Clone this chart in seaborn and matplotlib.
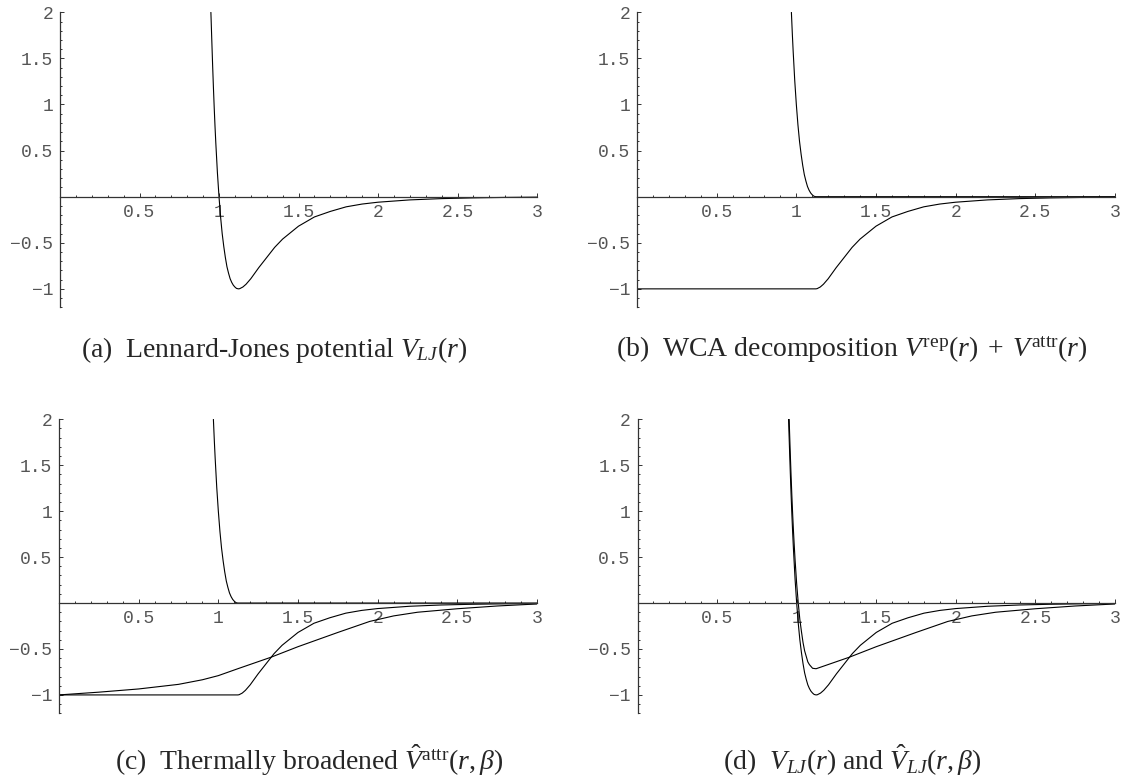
import matplotlib
matplotlib.use("Agg")
import matplotlib.pyplot as plt
import seaborn as sns
from matplotlib.ticker import MultipleLocator

# Lennard-Jones potential V_LJ(r)
r_lj = [0.949, 0.955, 0.96, 0.965, 0.97, 0.975, 0.98, 0.985, 0.99, 0.995, 1.0,
        1.01, 1.02, 1.03, 1.04, 1.05, 1.06, 1.07, 1.08, 1.09, 1.1, 1.11, 1.122,
        1.13, 1.15, 1.17, 1.2, 1.25, 1.3, 1.35, 1.4, 1.5, 1.6, 1.7, 1.8, 1.9,
        2.0, 2.2, 2.4, 2.6, 2.8, 3.0]
v_lj = [2.0, 1.68, 1.42, 1.18, 0.96, 0.76, 0.58, 0.42, 0.26, 0.13, 0.0,
        -0.22, -0.40, -0.54, -0.66, -0.76, -0.83, -0.89, -0.93, -0.96, -0.98, -0.995, -1.0,
        -0.998, -0.98, -0.95, -0.89, -0.77, -0.66, -0.55, -0.46, -0.32, -0.22, -0.16, -0.11, -0.08,
        -0.06, -0.035, -0.021, -0.013, -0.008, -0.005]

# WCA repulsive part V_rep(r)
r_rep = [0.969, 0.975, 0.98, 0.985, 0.99, 0.995, 1.0, 1.01, 1.02, 1.03, 1.04,
         1.05, 1.06, 1.07, 1.08, 1.09, 1.1, 1.11, 1.122, 1.5, 2.0, 2.5, 3.0]
v_rep = [2.0, 1.76, 1.58, 1.42, 1.26, 1.13, 1.0, 0.78, 0.60, 0.46, 0.34,
         0.24, 0.17, 0.11, 0.07, 0.04, 0.02, 0.005, 0.0, 0.0, 0.0, 0.0, 0.0]

# WCA attractive part V_attr(r)
r_attr = [0.0, 1.122, 1.13, 1.15, 1.17, 1.2, 1.25, 1.3, 1.35, 1.4, 1.5, 1.6,
          1.7, 1.8, 1.9, 2.0, 2.2, 2.4, 2.6, 2.8, 3.0]
v_attr = [-1.0, -1.0, -0.998, -0.98, -0.95, -0.89, -0.77, -0.66, -0.55, -0.46, -0.32, -0.22,
          -0.16, -0.11, -0.08, -0.06, -0.035, -0.021, -0.013, -0.008, -0.005]

# thermally broadened attractive part
r_hat = [0.0, 0.25, 0.5, 0.75, 0.9, 1.0, 1.122, 1.33, 1.5, 1.75, 1.95, 2.1,
         2.25, 2.5, 2.75, 3.0]
v_hat = [-1.0, -0.97, -0.935, -0.885, -0.835, -0.79, -0.715, -0.59, -0.475, -0.32, -0.2, -0.14,
         -0.1, -0.062, -0.032, -0.01]

# broadened LJ near the core (joins v_hat from r = 1.122 on)
r_hat_core = [0.953, 0.955, 0.96, 0.965, 0.97, 0.975, 0.98, 0.985, 0.99, 0.995,
              1.0, 1.01, 1.02, 1.03, 1.04, 1.05, 1.06, 1.07, 1.08, 1.09, 1.1]
v_hat_core = [2.0, 1.88, 1.62, 1.38, 1.16, 0.96, 0.78, 0.62, 0.47, 0.34,
              0.21, 0.0, -0.18, -0.31, -0.43, -0.52, -0.58, -0.64, -0.67, -0.69, -0.71]

x_ticks = [0.5, 1, 1.5, 2, 2.5, 3]
x_labels = ["0.5", "1", "1.5", "2", "2.5", "3"]
y_ticks = [-1, -0.5, 0.5, 1, 1.5, 2]
y_labels = ["\u22121", "\u22120.5", "0.5", "1", "1.5", "2"]

captions = [
    r"(a)  Lennard-Jones potential $V_{LJ}(r)$",
    r"(b)  WCA decomposition $V^{\mathrm{rep}}(r)\;+\;V^{\mathrm{attr}}(r)$",
    r"(c)  Thermally broadened $\hat{V}^{\mathrm{attr}}(r,\beta)$",
    r"(d)  $V_{LJ}(r)$ and $\hat{V}_{LJ}(r,\beta)$",
]

AXIS_COLOR = "#333333"
LABEL_COLOR = "#555555"
W, H = 1126, 778


def style_axes(ax):
    ax.set_xlim(0, 3)
    ax.set_ylim(-1.2, 2)
    ax.patch.set_visible(False)
    ax.grid(False)
    for s in ("top", "right"):
        ax.spines[s].set_visible(False)
    for s in ("bottom", "left"):
        ax.spines[s].set_position(("data", 0))
        ax.spines[s].set_color(AXIS_COLOR)
        ax.spines[s].set_linewidth(0.9)
    ax.set_xticks(x_ticks)
    ax.set_xticklabels(x_labels, family="Liberation Mono")
    ax.set_yticks(y_ticks)
    ax.set_yticklabels(y_labels, family="Liberation Mono")
    ax.xaxis.set_minor_locator(MultipleLocator(0.1))
    ax.yaxis.set_minor_locator(MultipleLocator(0.1))
    ax.tick_params(which="both", direction="in", bottom=True, left=True,
                   color=AXIS_COLOR, width=0.7)
    ax.tick_params(which="major", length=3, labelsize=13,
                   labelcolor=LABEL_COLOR, pad=5)
    ax.tick_params(which="minor", length=1.7)
    ax.set_xlabel("")
    ax.set_ylabel("")


def curve(ax, r, v):
    sns.lineplot(x=r, y=v, ax=ax, color="black", linewidth=0.8,
                 estimator=None, sort=False)


def plot_potentials(filename):
    sns.set_style("white")
    plt.rcParams["font.family"] = ["Liberation Serif", "DejaVu Serif"]
    plt.rcParams["mathtext.fontset"] = "custom"
    plt.rcParams["mathtext.rm"] = "Liberation Serif"
    plt.rcParams["mathtext.it"] = "Liberation Serif:italic"

    fig = plt.figure(figsize=(W / 100, H / 100), dpi=100)

    # axes boxes in pixels: left, top(y=2), width, height
    boxes = [(60, 12.3, 477, 295), (637, 12.3, 478, 295),
             (59, 419.3, 478, 294), (637.5, 419.3, 477.5, 294)]
    axes = []
    for left, top, w, h in boxes:
        axes.append(fig.add_axes([left / W, 1 - (top + h) / H, w / W, h / H]))

    curve(axes[0], r_lj, v_lj)

    curve(axes[1], r_rep, v_rep)
    curve(axes[1], r_attr, v_attr)

    curve(axes[2], r_rep, v_rep)
    curve(axes[2], r_attr, v_attr)
    curve(axes[2], r_hat, v_hat)

    curve(axes[3], r_lj, v_lj)
    curve(axes[3], r_hat_core + r_hat[6:], v_hat_core + v_hat[6:])

    for ax in axes:
        style_axes(ax)

    # caption centres in pixels
    cap_pos = [(274, 350), (852, 350), (309, 760), (852, 760)]
    for (cx, cy), txt in zip(cap_pos, captions):
        fig.text(cx / W, 1 - cy / H, txt, ha="center", va="center", fontsize=20)

    fig.savefig(filename, dpi=100)
    plt.close(fig)


if __name__ == "__main__":
    plot_potentials("out.png")
